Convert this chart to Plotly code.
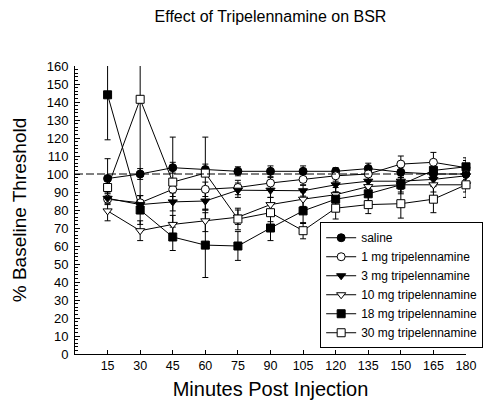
import plotly.graph_objects as go

minutes = [15, 30, 45, 60, 75, 90, 105, 120, 135, 150, 165, 180]
tick_labels = ["15", "30", "45", "60", "75", "90", "105", "120", "135", "150", "165", "180"]

saline = [97.5, 100, 103.5, 102.5, 101.5, 101.5, 101.5, 101.5, 103, 101, 100, 100]
saline_err = [11, 3, 3, 3, 2.5, 3, 3, 2, 3, 3, 3, 3]

mg1 = [86, 84, 91.5, 91.5, 92.5, 95, 97, 99, 100, 105.5, 106.5, 103.5]
mg1_err = [3, 4, 4, 4, 4, 3, 3, 3, 3, 4.5, 5.5, 4]

mg3 = [86.5, 83, 84.5, 85, 91, 91, 90.7, 94, 96, 96, 97, 99]
mg3_err = [3, 5, 5, 5, 4, 4, 3, 4, 4, 4, 4, 3]

mg10 = [79.5, 68.5, 72, 74, 76, 83, 86, 88.5, 93, 94, 94, 94]
mg10_err = [5.5, 5.5, 5, 6, 4, 4, 4, 4, 3, 4, 4, 4]

mg18 = [144, 80, 65, 60.5, 60, 70, 79.5, 86, 89, 94, 102, 104]
mg18_err = [25, 8, 7.5, 18, 8, 7, 7, 4, 4, 5, 5, 5]

mg30 = [92.5, 141.5, 95.5, 100.5, 75, 78.5, 68.5, 81, 83, 83.5, 86, 94]
mg30_err = [5, 60, 25, 20, 6, 5, 4.5, 6, 5, 8, 7.5, 7]

baseline = 100

series = [
    ("saline", saline, saline_err, "circle", "black"),
    ("1 mg tripelennamine", mg1, mg1_err, "circle", "white"),
    ("3 mg tripelennamine", mg3, mg3_err, "triangle-down", "black"),
    ("10 mg tripelennamine", mg10, mg10_err, "triangle-down", "white"),
    ("18 mg tripelennamine", mg18, mg18_err, "square", "black"),
    ("30 mg tripelennamine", mg30, mg30_err, "square", "white"),
]

FONT = "Liberation Sans, Arial, sans-serif"

fig = go.Figure()

# error bars (clipped to the plotting area)
for name, vals, errs, sym, fill in series:
    fig.add_trace(go.Scatter(
        x=minutes, y=vals, mode="markers",
        marker=dict(size=1, opacity=0),
        error_y=dict(type="data", array=errs, visible=True, color="black",
                     thickness=1, width=3),
        showlegend=False, hoverinfo="skip", cliponaxis=True,
    ))

# lines + markers
for name, vals, errs, sym, fill in series:
    fig.add_trace(go.Scatter(
        x=minutes, y=vals, mode="lines+markers", name=name,
        line=dict(color="black", width=1),
        marker=dict(symbol=sym, size=8, color=fill,
                    line=dict(color="black", width=1)),
        cliponaxis=False,
    ))

fig.add_shape(type="line", xref="x", yref="y", x0=0, x1=180,
              y0=baseline, y1=baseline,
              line=dict(color="black", width=1, dash="8px,3px"))

# the page body adds an 8px offset, so the figure is 8px smaller on each side
W, H = 485, 403
fig.update_layout(
    width=W, height=H,
    margin=dict(l=64.5, r=10, t=58, b=57),
    paper_bgcolor="white", plot_bgcolor="white",
    font=dict(family=FONT, color="black"),
    title=dict(text="Effect of Tripelennamine on BSR", font=dict(size=16, family=FONT),
               x=0.5, xref="paper", xanchor="center",
               y=1 - 8 / H, yref="container", yanchor="middle"),
    showlegend=True,
    legend=dict(x=0.627, y=0.02, xanchor="left", yanchor="bottom",
                bgcolor="white", bordercolor="black", borderwidth=1,
                font=dict(size=12, family=FONT)),
    xaxis=dict(range=[0, 180], tickvals=minutes, ticktext=tick_labels,
               ticks="inside", ticklen=4, tickcolor="black",
               showline=True, linecolor="black", linewidth=1,
               showgrid=False, zeroline=False,
               tickfont=dict(size=12.5, family=FONT),
               title=dict(text="Minutes Post Injection", font=dict(size=20, family=FONT),
                          standoff=9)),
    yaxis=dict(range=[0, 160], dtick=10, tick0=0,
               ticks="inside", ticklen=5, tickcolor="black",
               ticklabelstandoff=3,
               minor=dict(dtick=2, ticks="inside", ticklen=3, tickcolor="black"),
               showline=True, linecolor="black", linewidth=1,
               showgrid=False, zeroline=False,
               tickfont=dict(size=13, family=FONT),
               title=dict(text="% Baseline Threshold", font=dict(size=19, family=FONT),
                          standoff=15)),
)

fig.write_html("out.html")
